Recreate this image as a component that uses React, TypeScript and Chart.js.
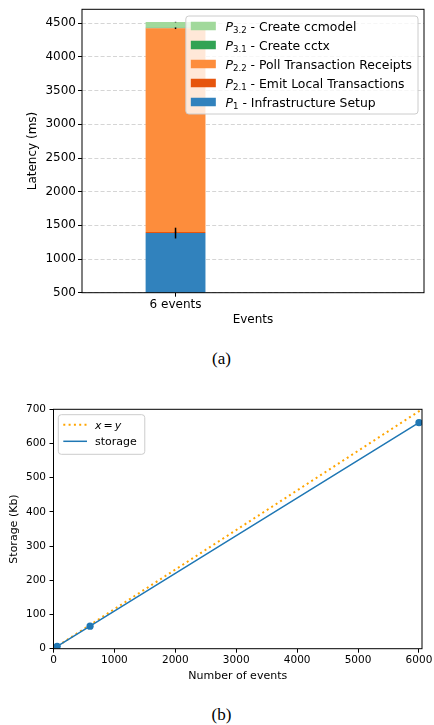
import { useEffect, useRef } from 'react';
import { Chart, registerables } from 'chart.js';

Chart.register(...registerables);
Chart.defaults.font.family = '"DejaVu Sans", sans-serif';
Chart.defaults.color = '#000';

// ---------------- (a) stacked latency bar ----------------
const categoriesA = ['6 events'];
const categoryPosA = [0];
const seriesSubA = ['1', '2.1', '2.2', '3.1', '3.2'];
const seriesNameA = [
  'Infrastructure Setup',
  'Emit Local Transactions',
  'Poll Transaction Receipts',
  'Create cctx',
  'Create ccmodel',
];
const p1Values = [1385];
const p21Values = [15];
const p22Values = [3025];
const p31Values = [8];
const p32Values = [85];
const p1Errors = [80];
const p21Errors = [5];
const p22Errors = [10];
const p31Errors = [3];
const p32Errors = [4];
const yTicksA = [500, 1000, 1500, 2000, 2500, 3000, 3500, 4000, 4500];
const yMinA = 500;
const yMaxA = 4708;
const xMinA = -0.547;
const xMaxA = 1.453;
const barWidthA = 0.35;
const colorsA = ['#3182bd', '#e6550d', '#fd8d3c', '#31a354', '#a1d99b'];

const valuesA = [p1Values, p21Values, p22Values, p31Values, p32Values];
const errorsA = [p1Errors, p21Errors, p22Errors, p31Errors, p32Errors];

// ---------------- (b) storage line ----------------
const storageEvents = [60, 600, 6000];
const storageKb = [7, 66, 661];
const identityEvents = [0, 6050];
const identityKb = [0, 700];
const xTicksB = [0, 1000, 2000, 3000, 4000, 5000, 6000];
const yTicksB = [0, 100, 200, 300, 400, 500, 600, 700];
const xMinB = 0;
const xMaxB = 6050;
const yMinB = 0;
const yMaxB = 700;

const FAM = '"DejaVu Sans", sans-serif';
const plain = (v: any) => String(v);

const framePlugin = {
  id: 'frame',
  afterDatasetsDraw(chart: any) {
    const { ctx, chartArea: a } = chart;
    ctx.save();
    ctx.strokeStyle = '#000';
    ctx.lineWidth = 1;
    ctx.setLineDash([]);
    ctx.strokeRect(a.left, a.top, a.right - a.left, a.bottom - a.top);
    ctx.restore();
  },
};

const errorBarPlugin = {
  id: 'errbars',
  afterDatasetsDraw(chart: any) {
    const { ctx } = chart;
    const yScale = chart.scales.y;
    ctx.save();
    ctx.strokeStyle = '#000';
    ctx.lineWidth = 1.5;
    ctx.setLineDash([]);
    valuesA.forEach((vals, i) => {
      const meta = chart.getDatasetMeta(i);
      meta.data.forEach((el: any, j: number) => {
        let top = 0;
        for (let k = 0; k <= i; k++) top += valuesA[k][j];
        const e = errorsA[i][j];
        ctx.beginPath();
        ctx.moveTo(el.x, yScale.getPixelForValue(top - e));
        ctx.lineTo(el.x, yScale.getPixelForValue(top + e));
        ctx.stroke();
      });
    });
    ctx.restore();
  },
};

const legendAPlugin = {
  id: 'legendA',
  afterDraw(chart: any) {
    const { ctx, chartArea } = chart;
    const fMain = `12.4px ${FAM}`;
    const fIt = `italic 12.4px ${FAM}`;
    const fSub = `8.6px ${FAM}`;
    ctx.save();
    const n = seriesSubA.length;
    const order = Array.from({ length: n }, (_, i) => n - 1 - i);
    const measure = (f: string, t: string) => {
      ctx.font = f;
      return ctx.measureText(t).width;
    };
    const widths = order.map(
      (i) => measure(fIt, 'P') + measure(fSub, seriesSubA[i]) + measure(fMain, ' - ' + seriesNameA[i])
    );
    const maxW = Math.max(...widths);
    const padL = 5, patchW = 25, patchH = 8.5, gap = 9.7, padR = 6, rowH = 19, padT = 10, padB = 12;
    const boxW = padL + patchW + gap + maxW + padR;
    const boxH = padT + (n - 1) * rowH + padB;
    const right = chartArea.right - 6;
    const top = chartArea.top + 6.7;
    const left = right - boxW;
    ctx.beginPath();
    (ctx as any).roundRect(left, top, boxW, boxH, 3);
    ctx.fillStyle = 'rgba(255,255,255,0.8)';
    ctx.fill();
    ctx.strokeStyle = '#cccccc';
    ctx.lineWidth = 1;
    ctx.stroke();
    order.forEach((i, r) => {
      const cy = top + padT + r * rowH;
      ctx.fillStyle = colorsA[i];
      ctx.fillRect(left + padL, cy - patchH / 2, patchW, patchH);
      let x = left + padL + patchW + gap;
      const base = cy + 4.5;
      ctx.fillStyle = '#000';
      ctx.textBaseline = 'alphabetic';
      ctx.textAlign = 'left';
      ctx.font = fIt;
      ctx.fillText('P', x, base);
      x += ctx.measureText('P').width;
      ctx.font = fSub;
      ctx.fillText(seriesSubA[i], x, base + 2);
      x += ctx.measureText(seriesSubA[i]).width;
      ctx.font = fMain;
      ctx.fillText(' - ' + seriesNameA[i], x, base);
    });
    ctx.restore();
  },
};

const legendBPlugin = {
  id: 'legendB',
  afterDraw(chart: any) {
    const { ctx, chartArea } = chart;
    const fMain = `11px ${FAM}`;
    const fIt = `italic 11px ${FAM}`;
    ctx.save();
    const left = chartArea.left + 4.8;
    const top = chartArea.top + 5.4;
    const padT = 10, rowH = 16.6, padB = 13;
    const lineX0 = left + 5, lineLen = 23.7, textX = left + 36.7, padR = 8;
    ctx.font = fIt;
    const wx = ctx.measureText('x').width;
    const wy = ctx.measureText('y').width;
    ctx.font = fMain;
    const weq = ctx.measureText('=').width;
    const eqGap = 2;
    const w1 = wx + eqGap + weq + eqGap + wy;
    const w2 = ctx.measureText('storage').width;
    const boxW = textX - left + Math.max(w1, w2) + padR;
    const boxH = padT + rowH + padB;
    ctx.beginPath();
    (ctx as any).roundRect(left, top, boxW, boxH, 3);
    ctx.fillStyle = 'rgba(255,255,255,0.8)';
    ctx.fill();
    ctx.strokeStyle = '#cccccc';
    ctx.lineWidth = 1;
    ctx.stroke();
    // row 1: dotted x = y
    const cy1 = top + padT;
    ctx.strokeStyle = '#ffa500';
    ctx.lineWidth = 2;
    ctx.setLineDash([2, 3.3]);
    ctx.beginPath();
    ctx.moveTo(lineX0, cy1);
    ctx.lineTo(lineX0 + lineLen, cy1);
    ctx.stroke();
    ctx.setLineDash([]);
    ctx.fillStyle = '#000';
    ctx.textBaseline = 'alphabetic';
    ctx.textAlign = 'left';
    const b1 = cy1 + 4;
    let x = textX;
    ctx.font = fIt;
    ctx.fillText('x', x, b1);
    x += wx + eqGap;
    ctx.font = fMain;
    ctx.fillText('=', x, b1);
    x += weq + eqGap;
    ctx.font = fIt;
    ctx.fillText('y', x, b1);
    // row 2: storage
    const cy2 = top + padT + rowH;
    ctx.strokeStyle = '#1f77b4';
    ctx.lineWidth = 1.5;
    ctx.beginPath();
    ctx.moveTo(lineX0, cy2);
    ctx.lineTo(lineX0 + lineLen, cy2);
    ctx.stroke();
    ctx.font = fMain;
    ctx.fillText('storage', textX, cy2 + 4);
    ctx.restore();
  },
};

function makeConfigA(): any {
  return {
    type: 'bar',
    data: {
      datasets: valuesA.map((vals, i) => ({
        label: 'P' + seriesSubA[i] + ' - ' + seriesNameA[i],
        data: categoryPosA.map((x, j) => ({ x, y: vals[j] })),
        backgroundColor: colorsA[i],
        borderWidth: 0,
        stack: 'a',
        categoryPercentage: barWidthA / (xMaxA - xMinA),
        barPercentage: 1,
      })),
    },
    options: {
      responsive: false,
      animation: false,
      events: [],
      layout: { padding: { top: 9.3, right: 10, left: 0, bottom: 0 } },
      plugins: { legend: { display: false }, tooltip: { enabled: false } },
      scales: {
        x: {
          type: 'linear',
          min: xMinA,
          max: xMaxA,
          offset: false,
          afterBuildTicks: (s: any) => {
            s.ticks = categoryPosA.map((v) => ({ value: v }));
          },
          afterFit: (s: any) => {
            s.height = 47.3;
          },
          ticks: {
            callback: (_v: any, idx: number) => categoriesA[idx],
            font: { size: 12, family: FAM },
            color: '#000',
            padding: 1,
            maxRotation: 0,
            autoSkip: false,
          },
          grid: {
            offset: false,
            drawOnChartArea: false,
            drawTicks: true,
            tickLength: 4,
            tickColor: '#000',
            tickWidth: 1,
          },
          border: { display: false },
          title: {
            display: true,
            text: 'Events',
            font: { size: 12, family: FAM },
            color: '#000',
            padding: { top: 0, bottom: 12.8 },
          },
        },
        y: {
          type: 'linear',
          min: yMinA,
          max: yMaxA,
          stacked: true,
          afterBuildTicks: (s: any) => {
            s.ticks = yTicksA.map((v) => ({ value: v }));
          },
          afterFit: (s: any) => {
            s.width = 82;
          },
          ticks: { font: { size: 12, family: FAM }, color: '#000', padding: 2, callback: plain },
          grid: {
            color: '#d0d0d0',
            lineWidth: 0.9,
            drawTicks: true,
            tickLength: 4,
            tickColor: '#000',
            tickWidth: 1,
            tickBorderDash: [],
          },
          border: { display: false, dash: [4, 2.2] },
          title: {
            display: true,
            text: 'Latency (ms)',
            font: { size: 12, family: FAM },
            color: '#000',
            padding: { top: 26, bottom: 0 },
          },
        },
      },
    },
    plugins: [errorBarPlugin, framePlugin, legendAPlugin],
  };
}

function makeConfigB(): any {
  return {
    type: 'scatter',
    data: {
      datasets: [
        {
          label: 'x = y',
          data: identityEvents.map((x, i) => ({ x, y: identityKb[i] })),
          showLine: true,
          borderColor: '#ffa500',
          borderWidth: 2,
          borderDash: [2, 3.3],
          pointRadius: 0,
          fill: false,
          order: 1,
        },
        {
          label: 'storage',
          data: storageEvents.map((x, i) => ({ x, y: storageKb[i] })),
          showLine: true,
          borderColor: '#1f77b4',
          borderWidth: 1.5,
          pointRadius: 3.6,
          pointBackgroundColor: '#1f77b4',
          pointBorderColor: '#1f77b4',
          pointBorderWidth: 0,
          fill: false,
          order: 0,
        },
      ],
    },
    options: {
      responsive: false,
      animation: false,
      events: [],
      layout: { padding: { top: 19.3, right: 12, left: 0, bottom: 0 } },
      plugins: { legend: { display: false }, tooltip: { enabled: false } },
      scales: {
        x: {
          type: 'linear',
          min: xMinB,
          max: xMaxB,
          afterBuildTicks: (s: any) => {
            s.ticks = xTicksB.map((v) => ({ value: v }));
          },
          afterFit: (s: any) => {
            s.height = 41.3;
          },
          ticks: {
            font: { size: 10.5, family: FAM },
            color: '#000',
            padding: 1.4,
            maxRotation: 0,
            autoSkip: false,
            callback: plain,
          },
          grid: { drawOnChartArea: false, drawTicks: true, tickLength: 4, tickColor: '#000', tickWidth: 1 },
          border: { display: false },
          title: {
            display: true,
            text: 'Number of events',
            font: { size: 11, family: FAM },
            color: '#000',
            padding: { top: 0, bottom: 7.4 },
          },
        },
        y: {
          type: 'linear',
          min: yMinB,
          max: yMaxB,
          afterBuildTicks: (s: any) => {
            s.ticks = yTicksB.map((v) => ({ value: v }));
          },
          afterFit: (s: any) => {
            s.width = 53.5;
          },
          ticks: { font: { size: 10.5, family: FAM }, color: '#000', padding: 3.5, callback: plain },
          grid: { drawOnChartArea: false, drawTicks: true, tickLength: 4, tickColor: '#000', tickWidth: 1 },
          border: { display: false },
          title: {
            display: true,
            text: 'Storage (Kb)',
            font: { size: 11, family: FAM },
            color: '#000',
            padding: { top: 8, bottom: 0 },
          },
        },
      },
    },
    plugins: [framePlugin, legendBPlugin],
  };
}

export default function App() {
  const refA = useRef<HTMLCanvasElement>(null);
  const refB = useRef<HTMLCanvasElement>(null);
  useEffect(() => {
    const a = new Chart(refA.current as HTMLCanvasElement, makeConfigA());
    const b = new Chart(refB.current as HTMLCanvasElement, makeConfigB());
    return () => {
      a.destroy();
      b.destroy();
    };
  }, []);
  const captionStyle: any = {
    position: 'absolute',
    left: 0,
    width: 443,
    textAlign: 'center',
    fontFamily: '"Liberation Serif", serif',
    fontSize: '17px',
    lineHeight: '17px',
    color: '#000',
  };
  return (
    <div style={{ position: 'fixed', left: 0, top: 0, width: 434, height: 725, background: '#fff', overflow: 'hidden' }}>
      <canvas ref={refA} width={434} height={340} style={{ position: 'absolute', left: 0, top: 0 }} />
      <div style={{ ...captionStyle, top: 350.3 }}>(a)</div>
      <canvas ref={refB} width={434} height={300} style={{ position: 'absolute', left: 0, top: 390 }} />
      <div style={{ ...captionStyle, top: 706.1 }}>(b)</div>
    </div>
  );
}
